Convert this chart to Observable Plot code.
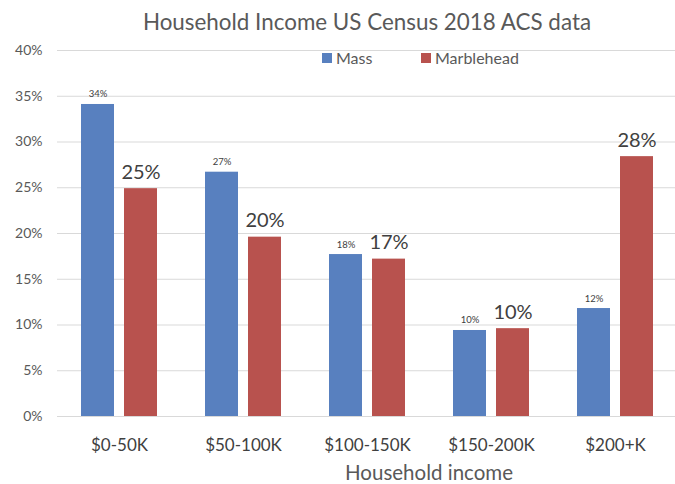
<!DOCTYPE html>
<html>
<head>
<meta charset="utf-8">
<script src="https://cdn.jsdelivr.net/npm/d3@7"></script>
<script src="https://cdn.jsdelivr.net/npm/@observablehq/plot@0.6"></script>
<style>
  html, body { margin: 0; padding: 0; background: #fff; overflow: hidden; }
  #wrap { position: relative; width: 675px; height: 484px; font-family: Lato, "Open Sans", sans-serif; }
  #wrap svg { position: absolute; left: 0; top: 0; }
  .title { position: absolute; left: 56px; width: 622px; top: 11px; text-align: center; font-size: 22.4px; line-height: 22px; color: #595959; white-space: nowrap; }
  .legend-item { position: absolute; top: 50px; display: flex; align-items: center; font-size: 16px; line-height: 16px; color: #595959; white-space: nowrap; }
  .sw { width: 10px; height: 10px; margin-right: 4px; display: inline-block; }
  .xlabel { position: absolute; left: 229px; width: 400px; top: 462px; text-align: center; font-size: 20.5px; line-height: 20px; color: #595959; white-space: nowrap; }
</style>
</head>
<body>
<div id="wrap"></div>
<script>
const categories = ["$0-50K", "$50-100K", "$100-150K", "$150-200K", "$200+K"];
const seriesNames = ["Mass", "Marblehead"];
const seriesColors = ["#5880BF", "#B8524E"];
const mass = [34.1, 26.7, 17.7, 9.4, 11.8];
const marblehead = [24.9, 19.6, 17.2, 9.6, 28.4];
const massLabels = ["34%", "27%", "18%", "10%", "12%"];
const marbleheadLabels = ["25%", "20%", "17%", "10%", "28%"];
const yTicks = [0, 5, 10, 15, 20, 25, 30, 35, 40];
const titleText = "Household Income US Census 2018 ACS data";
const xAxisLabel = "Household income";

const data = categories.flatMap((c, i) => [
  {group: c, series: "Mass", value: mass[i], label: massLabels[i]},
  {group: c, series: "Marblehead", value: marblehead[i], label: marbleheadLabels[i]}
]);

const chart = Plot.plot({
  width: 675,
  height: 484,
  marginTop: 50,
  marginBottom: 68,
  marginLeft: 56,
  marginRight: -3,
  style: {fontFamily: "Lato, 'Open Sans', sans-serif", fontSize: "14px", color: "#595959", background: "transparent"},
  fx: {domain: categories, padding: 0, label: null},
  x: {domain: seriesNames, paddingInner: 0.24, paddingOuter: 0.53, axis: null},
  y: {domain: [0, 40], label: null},
  color: {domain: seriesNames, range: seriesColors},
  marks: [
    Plot.gridY(yTicks, {stroke: "#d9d9d9", strokeOpacity: 1}),
    Plot.axisY(yTicks, {tickSize: 0, tickPadding: 15, tickFormat: d => d + "%", label: null, fontSize: 14}),
    Plot.axisFx({anchor: "bottom", tickSize: 0, tickPadding: 22, fontSize: 17, label: null, fill: "#404040"}),
    Plot.barY(data, {fx: "group", x: "series", y: "value", fill: "series"}),
    Plot.text(data.filter(d => d.series === "Mass"), {fx: "group", x: "series", y: "value", text: "label", lineAnchor: "bottom", dy: -7, fontSize: 9.5, fill: "#404040"}),
    Plot.text(data.filter(d => d.series === "Marblehead"), {fx: "group", x: "series", y: "value", text: "label", lineAnchor: "bottom", dy: -10, fontSize: 20, fill: "#404040"})
  ]
});

const wrap = document.getElementById("wrap");
wrap.appendChild(chart);

const t = document.createElement("div");
t.className = "title";
t.textContent = titleText;
wrap.appendChild(t);

const legendLefts = [322, 421];
seriesNames.forEach((s, i) => {
  const item = document.createElement("div");
  item.className = "legend-item";
  item.style.left = legendLefts[i] + "px";
  const sw = document.createElement("span");
  sw.className = "sw";
  sw.style.background = seriesColors[i];
  item.appendChild(sw);
  item.appendChild(document.createTextNode(s));
  wrap.appendChild(item);
});

const xl = document.createElement("div");
xl.className = "xlabel";
xl.textContent = xAxisLabel;
wrap.appendChild(xl);
</script>
</body>
</html>
